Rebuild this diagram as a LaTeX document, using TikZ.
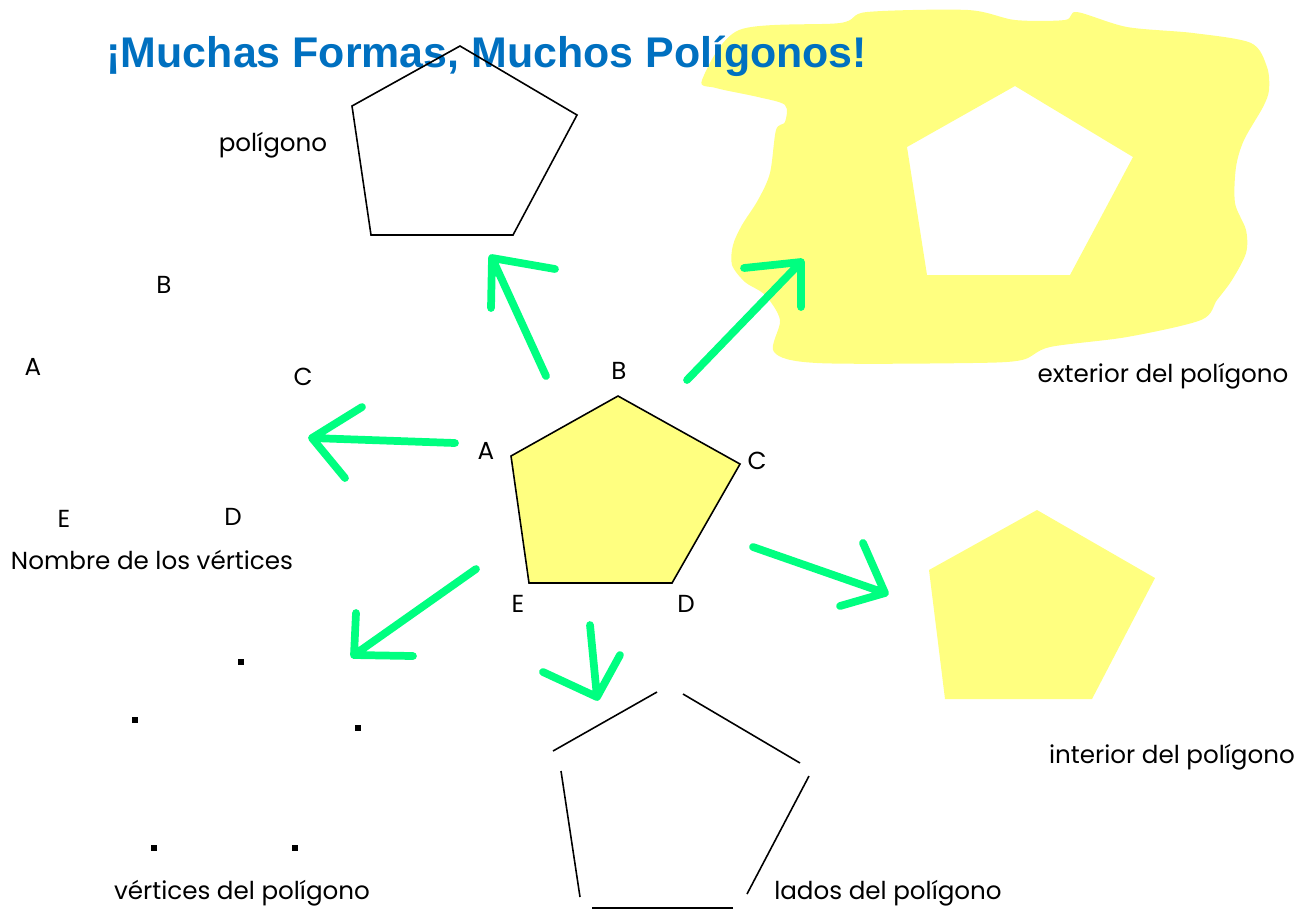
\documentclass[tikz,border=0pt]{standalone}
\usepackage{fontspec}
\setmainfont{Poppins}
\newfontfamily\titlefont{Liberation Sans}
\usetikzlibrary{positioning}
\definecolor{titleblue}{RGB}{0,112,192}
\definecolor{arrowgreen}{RGB}{0,255,128}
\definecolor{paleyellow}{RGB}{255,255,128}
\tikzstyle{lbl} = [inner sep=0pt, font=\fontsize{7}{8}\selectfont]
\tikzstyle{garrow} = [draw=arrowgreen, line width=2.2pt, line cap=round, line join=round]
\tikzstyle{outline} = [draw, line width=0.45pt]
\tikzstyle{dot} = [fill, inner sep=0pt, minimum size=0.065cm]

\begin{document}
\begin{tikzpicture}[x=0.01cm, y=-0.01cm]
			\useasboundingbox (0,0) rectangle (1309,911);

			% exterior: yellow region with a pentagon hole
			\fill [paleyellow, even odd rule]
				plot [smooth cycle, tension=0.5] coordinates {(702,80) (739,30) (840,23) (867,12) (968,10) (1015,20) (1065,20) (1077,12) (1127,27) (1193,33) (1251,43) (1267,67) (1269,90) (1263,107) (1244,140) (1236,167) (1235,203) (1246,230) (1246,253) (1232,280) (1217,300) (1201,320) (1127,337) (1050,347) (1022,360) (972,363) (817,363) (774,352) (780,320) (765,295) (745,282) (732,265) (733,245) (742,225) (758,200) (770,173) (776,130) (785,122) (785,105) (758,97) (716,88)}
				(1015,86) -- (1133,157) -- (1070,275) -- (927,275) -- (907,147) -- cycle;

			% title
			\node [anchor=base west, inner sep=0pt, text=titleblue, font=\titlefont\bfseries\fontsize{12.2}{14}\selectfont] (title) at (106,67) {¡Muchas Formas, Muchos Polígonos!};

			% polygon
			\coordinate (p1) at (460,46);
			\coordinate (p2) at (577,115);
			\coordinate (p3) at (513,235);
			\coordinate (p4) at (371,235);
			\coordinate (p5) at (352,106);
			\path [outline] (p1) -- (p2) -- (p3) -- (p4) -- (p5) -- cycle;
			\node [lbl] (poly) at (273,145) {polígono};

			% central pentagon
			\coordinate (cA) at (511,456);
			\coordinate (cB) at (618,396);
			\coordinate (cC) at (740,464);
			\coordinate (cD) at (672,583);
			\coordinate (cE) at (529,583);
			\path [outline, fill=paleyellow] (cA) -- (cB) -- (cC) -- (cD) -- (cE) -- cycle;
			\node [lbl] (lA) at (486,451) {A};
			\node [lbl] (lB) at (619,371) {B};
			\node [lbl] (lC) at (757,461) {C};
			\node [lbl] (lD) at (686,604) {D};
			\node [lbl] (lE) at (518,604) {E};

			% names of the vertices
			\node [lbl] (nB) at (164,285) {B};
			\node [lbl] (nA) at (33,367) {A};
			\node [lbl] (nC) at (303,377) {C};
			\node [lbl] (nE) at (64,519) {E};
			\node [lbl] (nD) at (233,517) {D};
			\node [lbl] (names) at (152,560) {Nombre de los vértices};

			% vertices
			\node [dot] (v1) at (241,662) {};
			\node [dot] (v2) at (135,720) {};
			\node [dot] (v3) at (358,728) {};
			\node [dot] (v4) at (154,848) {};
			\node [dot] (v5) at (295,848) {};
			\node [lbl] (verts) at (242,893) {vértices del polígono};

			% sides
			\coordinate (s1a) at (553,751); \coordinate (s1b) at (657,692);
			\coordinate (s2a) at (683,694); \coordinate (s2b) at (800,763);
			\coordinate (s3a) at (809,776); \coordinate (s3b) at (747,894);
			\coordinate (s4a) at (733,908); \coordinate (s4b) at (592,908);
			\coordinate (s5a) at (580,897); \coordinate (s5b) at (561,771);
			\path [outline] (s1a) -- (s1b);
			\path [outline] (s2a) -- (s2b);
			\path [outline] (s3a) -- (s3b);
			\path [outline] (s4a) -- (s4b);
			\path [outline] (s5a) -- (s5b);
			\node [lbl] (sides) at (888,893) {lados del polígono};

			% interior
			\coordinate (i1) at (1037,510);
			\coordinate (i2) at (1155,578);
			\coordinate (i3) at (1092,699);
			\coordinate (i4) at (945,699);
			\coordinate (i5) at (929,570);
			\fill [paleyellow] (i1) -- (i2) -- (i3) -- (i4) -- (i5) -- cycle;
			\node [lbl] (inside) at (1172,757) {interior del polígono};
			\node [lbl] (outside) at (1163,376) {exterior del polígono};

			% arrows
			\coordinate (a1) at (546,376); \coordinate (h1) at (492,258);
			\coordinate (h1l) at (491,308); \coordinate (h1r) at (555,269);
			\coordinate (a2) at (687,380); \coordinate (h2) at (801,262);
			\coordinate (h2l) at (744,268); \coordinate (h2r) at (801,307);
			\coordinate (a3) at (455,443); \coordinate (h3) at (312,438);
			\coordinate (h3l) at (362,407); \coordinate (h3r) at (345,478);
			\coordinate (a4) at (476,569); \coordinate (h4) at (354,655);
			\coordinate (h4l) at (356,613); \coordinate (h4r) at (413,656);
			\coordinate (a5) at (590,625); \coordinate (h5) at (597,697);
			\coordinate (h5l) at (543,672); \coordinate (h5r) at (620,655);
			\coordinate (a6) at (753,547); \coordinate (h6) at (885,593);
			\coordinate (h6l) at (863,543); \coordinate (h6r) at (840,606);
			\path [garrow] (a1) -- (h1) (h1l) -- (h1) -- (h1r);
			\path [garrow] (a2) -- (h2) (h2l) -- (h2) -- (h2r);
			\path [garrow] (a3) -- (h3) (h3l) -- (h3) -- (h3r);
			\path [garrow] (a4) -- (h4) (h4l) -- (h4) -- (h4r);
			\path [garrow] (a5) -- (h5) (h5l) -- (h5) -- (h5r);
			\path [garrow] (a6) -- (h6) (h6l) -- (h6) -- (h6r);
		\end{tikzpicture}
\end{document}
